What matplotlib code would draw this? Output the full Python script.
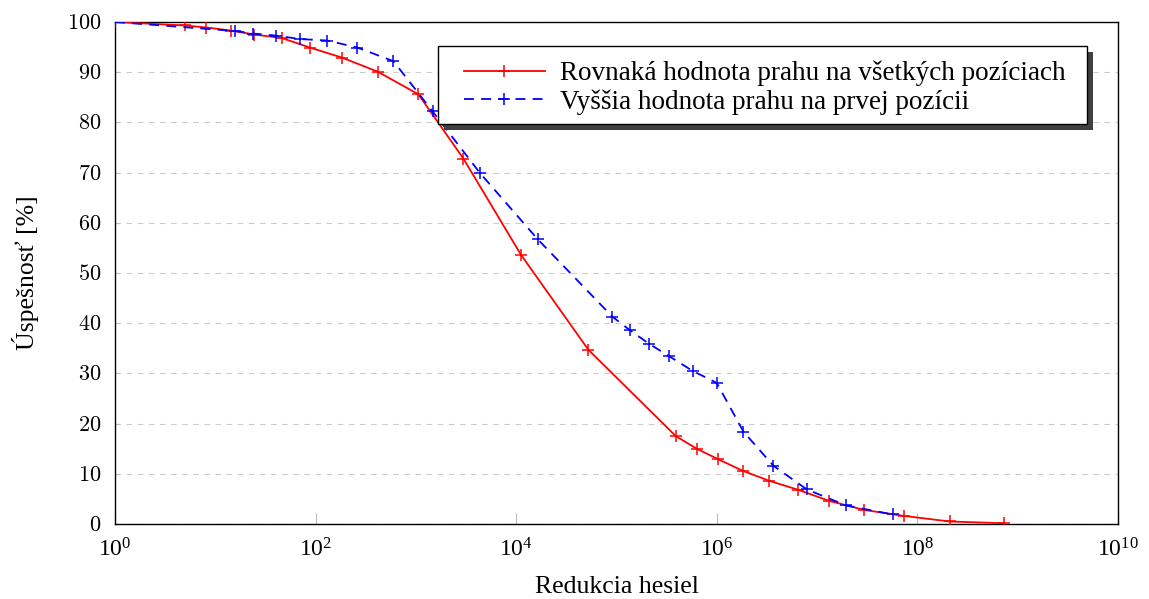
import numpy as np
import matplotlib
matplotlib.use('Agg')
import matplotlib.pyplot as plt
from matplotlib.patches import Rectangle
from matplotlib.ticker import FuncFormatter, NullLocator

plt.rcParams['font.family'] = ['Liberation Serif', 'DejaVu Serif']
plt.rcParams['mathtext.fontset'] = 'cm'

# Rovnaka hodnota prahu na vsetkych poziciach
red_x = [1, 5.0, 8.1, 14.3, 24.5, 46, 88, 183, 416, 1057, 2970, 11170, 52400,
         3.9e5, 6.3e5, 1.03e6, 1.81e6, 3.33e6, 6.5e6, 1.32e7, 2.94e7, 7.4e7,
         2.1e8, 7.3e8]
red_y = [100, 99.3, 98.9, 98.3, 97.5, 96.8, 94.9, 92.9, 90.1, 85.6, 72.8, 53.6,
         34.7, 17.5, 15.0, 12.9, 10.6, 8.6, 6.8, 4.6, 2.8, 1.6, 0.5, 0.15]

# Vyssia hodnota prahu na prvej pozicii
blue_x = [1, 15.7, 23.9, 40, 70, 131, 261, 596, 1465, 4355, 16400, 90800,
          1.36e5, 2.11e5, 3.36e5, 5.73e5, 9.98e5, 1.84e6, 3.66e6, 7.87e6,
          1.94e7, 5.67e7]
blue_y = [100, 98.2, 97.7, 97.3, 96.6, 96.3, 94.9, 92.2, 82.2, 69.9, 56.7, 41.3,
          38.6, 35.9, 33.4, 30.5, 28.1, 18.4, 11.6, 6.9, 3.7, 1.9]

fig = plt.figure(figsize=(11.49, 5.99), dpi=100)
ax = fig.add_axes([0.1001, 0.1252, 0.873, 0.8381])

ax.plot(red_x, red_y, color='red', lw=1.3, marker='+', ms=9, mew=1.1,
        label='Rovnaká hodnota prahu na všetkých pozíciach', zorder=3)
ax.plot(blue_x, blue_y, color='blue', lw=1.3, marker='+', ms=9, mew=1.1,
        dashes=(5.5, 4), label='Vyššia hodnota prahu na prvej pozícii', zorder=3)

ax.set_xscale('log')
ax.set_xlim(1, 1e10)
ax.set_ylim(0, 100)
ax.set_xticks([10.0 ** k for k in range(0, 11, 2)])
ax.xaxis.set_minor_locator(NullLocator())
ax.set_yticks(range(0, 101, 10))
ax.yaxis.set_major_formatter(FuncFormatter(lambda v, p: r'$%d$' % v))
ax.yaxis.grid(True, linestyle=(0, (5, 5)), color='#cccccc', lw=0.8)

ax.tick_params(axis='x', direction='in', length=8, color='#bbbbbb',
               labelsize=17, pad=10)
ax.tick_params(axis='y', direction='in', length=3, color='#bbbbbb',
               labelsize=16, pad=10)
for s in ax.spines.values():
    s.set_linewidth(1.0)

ax.set_xlabel('Redukcia hesiel', fontsize=18.5, labelpad=11)
ax.set_ylabel('Úspešnosť [%]', fontsize=18.5, labelpad=20)

# legend box with a hard shadow, drawn by hand
bx0, bx1, by0, by1 = 0.322, 0.969, 0.797, 0.952
ax.add_patch(Rectangle((bx0 + 0.006, by0 - 0.012), bx1 - bx0, by1 - by0,
                       transform=ax.transAxes, facecolor='#404040',
                       edgecolor='none', zorder=5))
ax.add_patch(Rectangle((bx0, by0), bx1 - bx0, by1 - by0,
                       transform=ax.transAxes, facecolor='white',
                       edgecolor='black', lw=1.0, zorder=6))
leg = ax.legend(loc='center', bbox_to_anchor=((bx0 + bx1) / 2 + 0.002, 0.869),
                borderaxespad=0, borderpad=0, frameon=False, fontsize=19.5,
                handlelength=3.0, handletextpad=0.55, labelspacing=0.1)
leg.set_zorder(7)

fig.savefig('out.png', dpi=100)
